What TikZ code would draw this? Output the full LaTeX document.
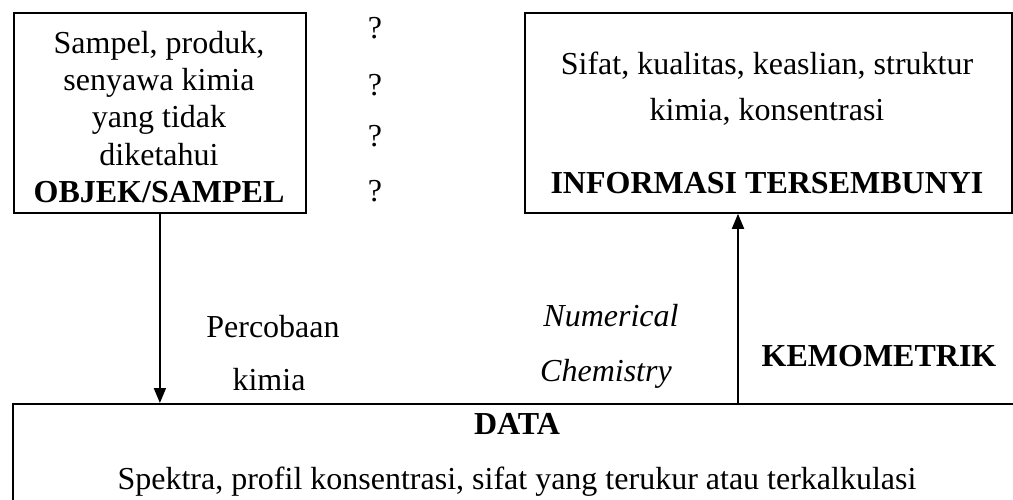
\documentclass[tikz,border=0pt]{standalone}
\usepackage{fontspec}
\setmainfont{Liberation Serif}
\usetikzlibrary{arrows.meta}
\begin{document}
\begin{tikzpicture}[x=1pt,y=-1pt,
  font=\fontsize{32}{36}\selectfont,
  box/.style={draw, line width=1.8pt, inner sep=0pt, anchor=north west},
  lbl/.style={inner sep=0pt, anchor=base},
  conn/.style={line width=1.8pt, -{Triangle[length=15pt,width=12pt]}}]
\useasboundingbox (0,0) rectangle (1013,499);
\clip (0,0) rectangle (1013,499);
% boxes
\node[box, minimum width=292pt, minimum height=200pt] (obj) at (13,12) {};
\node[box, minimum width=487pt, minimum height=200pt] (info) at (524,12) {};
\node[box, minimum width=1040pt, minimum height=150pt] (data) at (12,403) {};
% left box text
\node[lbl] (t1) at (159,53) {Sampel, produk,};
\node[lbl] (t2) at (159,90) {senyawa kimia};
\node[lbl] (t3) at (159,127) {yang tidak};
\node[lbl] (t4) at (159,165) {diketahui};
\node[lbl] (t5) at (159,202) {\textbf{OBJEK/SAMPEL}};
% question marks
\node[lbl] (q1) at (375,38) {?};
\node[lbl] (q2) at (375,95) {?};
\node[lbl] (q3) at (375,146) {?};
\node[lbl] (q4) at (375,201) {?};
% right box text
\node[lbl] (r1) at (767,74) {Sifat, kualitas, keaslian, struktur};
\node[lbl] (r2) at (767,120) {kimia, konsentrasi};
\node[lbl] (r3) at (767,193) {\textbf{INFORMASI TERSEMBUNYI}};
% middle labels
\node[lbl] (p1) at (273,337) {Percobaan};
\node[lbl] (p2) at (269,390) {kimia};
\node[lbl] (n1) at (611,326) {\textit{Numerical}};
\node[lbl] (n2) at (606,381) {\textit{Chemistry}};
\node[lbl] (k) at (879,366) {\textbf{KEMOMETRIK}};
% data text
\node[lbl] (d1) at (517,434) {\textbf{DATA}};
\node[lbl] (d2) at (517,489) {Spektra, profil konsentrasi, sifat yang terukur atau terkalkulasi};
% connectors
\draw[conn] (obj.south) -- (obj.south |- data.north);
\coordinate (up) at (738,403);
\draw[conn] (up) -- (up |- info.south);
\end{tikzpicture}
\end{document}
